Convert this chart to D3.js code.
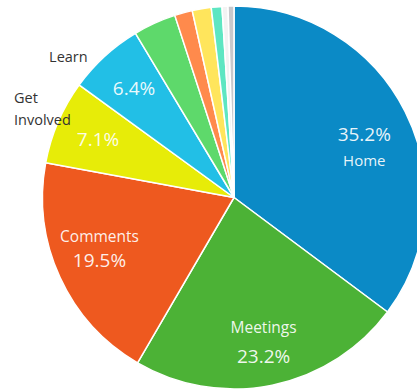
<!DOCTYPE html>
<html>
<head>
<meta charset="utf-8">
<script src="https://cdn.jsdelivr.net/npm/d3@7"></script>
<style>
  html, body { margin: 0; padding: 0; background: #fff; }
  svg { display: block; }
</style>
</head>
<body>
<svg id="chart" width="417" height="390"></svg>
<script>
// Page share by section (percent)
const categories = ["Home", "Meetings", "Comments", "Get Involved", "Learn", "Other A", "Other B", "Other C", "Other D", "Other E", "Other F"];
const values = [35.2, 23.2, 19.5, 7.1, 6.4, 3.6, 1.5, 1.6, 0.9, 0.5, 0.5];
const palette = ["#0b8ac6", "#4cb236", "#ee591f", "#e7ec08", "#22bfe6", "#5ed96b", "#ff8a4c", "#ffe55c", "#5ee6c2", "#f3f3f3", "#c8c8cc"];

// Label styling per section: inside (name + value) or value inside with name outside
const insideNamed = { "Home": "valueFirst", "Meetings": "nameFirst", "Comments": "nameFirst" };
const outsideNamed = { "Get Involved": ["Get", "Involved"], "Learn": ["Learn"] };

const width = 417, height = 390;
const cx = 234, cy = 197.5, radius = 191.5;
const font = "'Open Sans', 'DejaVu Sans', sans-serif";

const svg = d3.select("#chart");
const g = svg.append("g").attr("transform", `translate(${cx},${cy})`);

const data = categories.map((c, i) => ({ name: c, value: values[i], color: palette[i] }));

const pie = d3.pie().value(d => d.value).sort(null);
const arcs = pie(data);

const arc = d3.arc().innerRadius(0).outerRadius(radius);
const labelArc = d3.arc().innerRadius(148).outerRadius(148);
const edgeArc = d3.arc().innerRadius(radius).outerRadius(radius);

g.selectAll("path.slice")
  .data(arcs)
  .join("path")
  .attr("class", "slice")
  .attr("d", arc)
  .attr("fill", d => d.data.color)
  .attr("stroke", "#fff")
  .attr("stroke-width", 1.5)
  .attr("stroke-linejoin", "round");

const fmt = v => d3.format(".1f")(v) + "%";

// Inside labels
arcs.forEach(d => {
  const name = d.data.name;
  if (!(name in insideNamed) && !(name in outsideNamed)) return;
  const [x, y] = labelArc.centroid(d);
  const t = g.append("text")
    .attr("text-anchor", "middle")
    .attr("fill", "#fff")
    .attr("fill-opacity", 0.92)
    .attr("font-family", font);
  if (insideNamed[name] === "valueFirst") {
    t.append("tspan").attr("x", x - 2).attr("y", y + 10).attr("font-size", 19).text(fmt(d.data.value));
    t.append("tspan").attr("x", x - 2).attr("y", y + 35).attr("font-size", 15).text(name);
  } else if (insideNamed[name] === "nameFirst") {
    const off = name === "Meetings" ? -10 : -17;
    const gap = name === "Meetings" ? 30 : 25;
    t.append("tspan").attr("x", x).attr("y", y + off).attr("font-size", 15.5).text(name);
    t.append("tspan").attr("x", x).attr("y", y + off + gap).attr("font-size", 19).text(fmt(d.data.value));
  } else {
    t.append("tspan").attr("x", x).attr("y", y + 7).attr("font-size", 19).text(fmt(d.data.value));
  }
});

// Outside labels
arcs.forEach(d => {
  const lines = outsideNamed[d.data.name];
  if (!lines) return;
  const [ex, ey] = edgeArc.centroid(d);
  const t = g.append("text")
    .attr("fill", "#333")
    .attr("font-family", font)
    .attr("font-size", 14.5);
  if (lines.length === 1) {
    t.attr("text-anchor", "end");
    t.append("tspan").attr("x", ex - 17).attr("y", ey + 6).text(lines[0]);
  } else {
    t.attr("text-anchor", "start");
    lines.forEach((ln, i) => {
      t.append("tspan").attr("x", ex - 44).attr("y", ey - 19 + i * 22).text(ln);
    });
  }
});
</script>
</body>
</html>
